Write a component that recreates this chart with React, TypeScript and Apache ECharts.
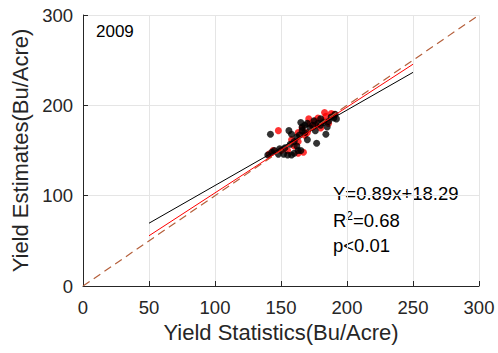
import React, { useEffect, useRef } from "react";
import * as echarts from "echarts";

const xTicks = [0, 50, 100, 150, 200, 250, 300];
const yTicks = [0, 100, 200, 300];

const blackPoints: [number, number][] = [
  [142, 168], [140, 145], [143, 148], [145, 150], [149, 152], [152, 146], [155, 145],
  [158, 145], [160, 147], [163, 150], [156, 172], [158, 168], [160, 160], [162, 155],
  [165, 181], [166, 176], [168, 178], [164, 167], [170, 162], [168, 170], [172, 175],
  [174, 178], [175, 183], [177, 158], [178, 180], [180, 178], [182, 181], [184, 168],
  [186, 182], [188, 187], [190, 186], [191, 190], [192, 185], [170, 180], [166, 172],
  [162, 165], [157, 157], [165, 150], [153, 153], [148, 146], [176, 172], [180, 185],
  [185, 176],
];

const redPoints: [number, number][] = [
  [141, 146], [144, 150], [148, 172], [150, 150], [155, 150], [160, 155], [163, 147],
  [163, 160], [166, 175], [168, 167], [170, 170], [172, 180], [174, 176], [176, 183],
  [178, 186], [180, 175], [182, 183], [184, 188], [186, 180], [188, 191], [190, 190],
  [167, 148], [158, 162], [176, 178], [183, 192], [171, 185], [163, 170],
];

const blackFit: [number, number][] = [[50, 69.5], [250, 236.5]];
const redFit: [number, number][] = [[50, 55.6], [250, 245.5]];
const oneToOne: [number, number][] = [[0, 0], [300, 300]];

const yearLabel = "2009";
const statLines = ["Y=0.89x+18.29", "R{sup|2}=0.68", "p<0.01"];

export default function App() {
  const ref = useRef<HTMLDivElement>(null);
  useEffect(() => {
    document.body.style.margin = "0";
    const chart = echarts.init(ref.current!, null, { renderer: "svg" });
    const font = "Liberation Sans, Arial, sans-serif";
    const textColor = "#262626";
    chart.setOption({
      animation: false,
      backgroundColor: "#ffffff",
      grid: { left: 83, right: 19, top: 15, bottom: 67 },
      xAxis: {
        type: "value",
        min: xTicks[0],
        max: xTicks[xTicks.length - 1],
        interval: 50,
        name: "Yield Statistics(Bu/Acre)",
        nameLocation: "middle",
        nameGap: 30,
        nameTextStyle: { fontFamily: font, fontSize: 22, color: textColor },
        axisLine: { show: true, onZero: false, lineStyle: { color: "#262626", width: 1 } },
        axisTick: { show: true, inside: true, length: 5, lineStyle: { color: "#262626" } },
        axisLabel: { fontFamily: font, fontSize: 18.5, color: textColor, margin: 12 },
        splitLine: { show: true, lineStyle: { color: "#e5e5e5", width: 1 } },
      },
      yAxis: {
        type: "value",
        min: yTicks[0],
        max: yTicks[yTicks.length - 1],
        interval: 100,
        name: "Yield Estimates(Bu/Acre)",
        nameLocation: "middle",
        nameGap: 50,
        nameTextStyle: { fontFamily: font, fontSize: 22, color: textColor },
        axisLine: { show: true, onZero: false, lineStyle: { color: "#262626", width: 1 } },
        axisTick: { show: true, inside: true, length: 5, lineStyle: { color: "#262626" } },
        axisLabel: { fontFamily: font, fontSize: 18.5, color: textColor, margin: 10 },
        splitLine: { show: true, lineStyle: { color: "#e5e5e5", width: 1 } },
      },
      series: [
        {
          type: "scatter",
          data: redPoints,
          symbolSize: 7,
          itemStyle: { color: "#ff0000" },
          z: 2,
        },
        {
          type: "scatter",
          data: blackPoints,
          symbolSize: 7,
          itemStyle: { color: "#000000" },
          z: 3,
        },
        {
          type: "line",
          data: oneToOne,
          symbol: "none",
          lineStyle: { color: "#b5603c", width: 1.2, type: [8, 5] },
          z: 4,
        },
        {
          type: "line",
          data: blackFit,
          symbol: "none",
          lineStyle: { color: "#000000", width: 1 },
          z: 5,
        },
        {
          type: "line",
          data: redFit,
          symbol: "none",
          lineStyle: { color: "#ff0000", width: 1 },
          z: 5,
        },
      ],
      graphic: [
        {
          type: "text",
          left: 96,
          top: 23,
          style: { text: yearLabel, fontFamily: font, fontSize: 17, fill: "#000000" },
        },
        ...statLines.map((t, i) => ({
          type: "text",
          left: 333,
          top: 184 + i * 26,
          style: {
            text: t,
            fontFamily: font,
            fontSize: 18.5,
            fill: "#000000",
            rich: {
              sup: { fontFamily: font, fontSize: 12, fill: "#000000", verticalAlign: "top", padding: [0, 0, 9, 0] },
            },
          },
        })),
      ],
    });
    return () => chart.dispose();
  }, []);
  return <div ref={ref} style={{ width: 498, height: 353 }} />;
}
